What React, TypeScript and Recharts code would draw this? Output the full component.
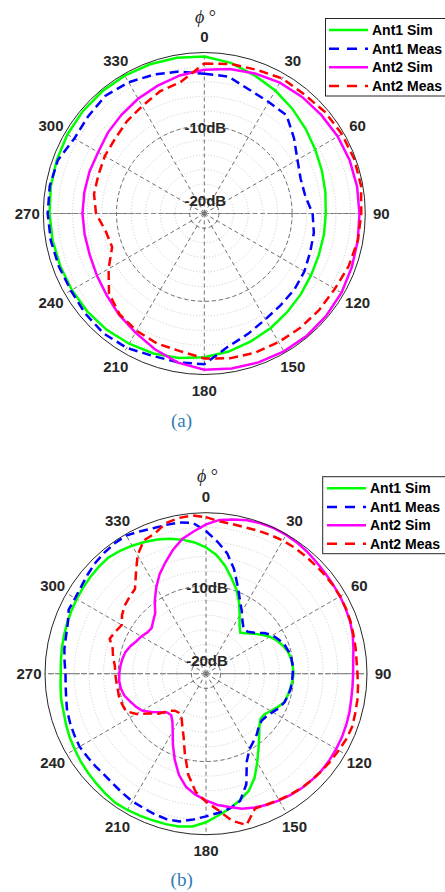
import React from 'react';
import { RadarChart, Radar, PolarGrid, PolarAngleAxis, PolarRadiusAxis } from 'recharts';

// ---------- data ----------
const ANGLES_A = [0, 10, 20, 30, 40, 50, 60, 70, 80, 90, 100, 110, 120, 130, 140, 150, 160, 170, 180, 190, 200, 210, 220, 230, 240, 250, 260, 270, 280, 290, 300, 310, 320, 330, 340, 350];

const ANT1_SIM_A = [-0.55, -1.1, -1.9, -2.6, -3.3, -3.95, -4.5, -4.9, -5.2, -5.4, -5.4, -5.35, -5.15, -4.8, -4.4, -3.9, -3.4, -2.85, -2.35, -1.95, -1.65, -1.45, -1.25, -1.15, -1.1, -1.05, -0.95, -0.85, -0.7, -0.55, -0.4, -0.3, -0.25, -0.25, -0.3, -0.4];
const ANT1_MEAS_A = [-2.9, -3.0, -4.0, -4.4, -4.5, -6.0, -7.3, -8.0, -8.0, -7.2, -6.8, -6.6, -6.2, -5.9, -5.7, -5.3, -4.5, -3.5, -1.4, -1.35, -1.3, -0.8, -0.6, -0.75, -0.95, -0.85, -0.7, -0.6, -0.55, -0.7, -1.5, -1.3, -1.0, -1.3, -1.8, -2.3];
const ANT2_SIM_A = [-2.35, -1.95, -1.65, -1.35, -1.2, -1.1, -0.95, -0.85, -0.8, -0.8, -0.7, -0.55, -0.35, -0.25, -0.2, -0.25, -0.35, -0.5, -0.65, -1.3, -2.25, -3.2, -3.9, -4.6, -5.05, -5.35, -5.4, -5.35, -5.35, -5.3, -5.25, -4.8, -4.4, -3.9, -3.4, -2.85];
const ANT2_MEAS_A = [-1.5, -1.25, -1.1, -0.7, -0.75, -0.45, -0.3, -0.2, -0.25, -0.55, -0.7, -1.0, -1.4, -1.5, -1.6, -1.7, -1.75, -1.9, -2.2, -2.9, -3.1, -3.5, -4.0, -5.0, -6.9, -8.6, -8.3, -7.2, -6.7, -6.6, -6.3, -6.1, -5.55, -5.05, -4.25, -3.7];

const ANGLES_B = [0, 5, 10, 15, 20, 25, 30, 35, 40, 45, 50, 55, 60, 65, 70, 75, 80, 85, 90, 95, 100, 105, 110, 115, 120, 125, 130, 135, 140, 145, 150, 155, 160, 165, 170, 175, 180, 185, 190, 195, 200, 205, 210, 215, 220, 225, 230, 235, 240, 245, 250, 255, 260, 265, 270, 275, 280, 285, 290, 295, 300, 305, 310, 315, 320, 325, 330, 335, 340, 345, 350, 355];

const ANT1_SIM_B = [-4.75, -5.7, -7.0, -8.5, -9.8, -11.3, -12.8, -14.0, -14.7, -14.2, -13.5, -12.7, -11.9, -11.3, -10.8, -10.4, -10.2, -10.1, -10.05, -10.15, -10.3, -10.45, -10.6, -11.2, -11.8, -12.3, -12.3, -11.7, -10.7, -9.5, -8.0, -6.3, -4.95, -4.1, -3.3, -2.55, -1.7, -1.05, -0.8, -0.72, -0.68, -0.6, -0.5, -0.45, -0.6, -0.8, -0.95, -1.1, -1.3, -1.45, -1.65, -1.85, -1.9, -2.05, -2.15, -2.1, -2.0, -1.9, -1.8, -1.7, -1.6, -1.5, -1.4, -1.3, -1.27, -1.5, -1.8, -2.15, -2.5, -2.9, -3.4, -4.0];
const ANT1_MEAS_B = [-2.5, -3.9, -5.3, -7.2, -9.3, -11.0, -12.2, -13.3, -14.0, -13.9, -13.3, -12.3, -11.5, -11.0, -10.55, -10.3, -10.15, -10.1, -10.15, -10.2, -10.25, -10.4, -10.6, -10.95, -11.5, -11.9, -12.05, -11.8, -11.2, -10.7, -10.1, -8.8, -5.9, -4.0, -3.3, -2.9, -2.5, -2.0, -1.5, -1.4, -1.55, -1.75, -1.85, -2.1, -2.3, -2.4, -2.3, -2.2, -2.05, -2.15, -2.25, -2.35, -2.6, -2.75, -2.8, -2.6, -2.35, -2.2, -1.9, -1.3, -1.35, -1.2, -0.9, -0.6, -0.4, -0.25, -0.2, -0.55, -0.85, -0.95, -1.0, -1.3];
const ANT2_SIM_B = [-1.6, -0.9, -0.6, -0.3, -0.12, -0.05, -0.1, -0.2, -0.35, -0.55, -0.7, -0.8, -0.85, -0.95, -1.05, -1.25, -1.55, -1.8, -1.9, -1.9, -1.85, -1.7, -1.6, -1.5, -1.45, -1.4, -1.4, -1.5, -1.6, -1.8, -2.0, -2.25, -2.55, -2.9, -3.5, -4.0, -4.7, -5.4, -6.3, -7.7, -9.5, -11.3, -12.9, -14.0, -14.6, -14.5, -13.8, -12.9, -11.9, -11.4, -10.95, -10.45, -10.2, -10.1, -10.15, -10.25, -10.4, -10.6, -11.0, -11.5, -11.8, -12.2, -12.3, -11.8, -11.2, -9.8, -8.4, -7.0, -5.8, -4.5, -3.3, -2.5];
const ANT2_MEAS_B = [-0.6, -1.1, -1.25, -1.3, -1.2, -1.1, -1.0, -0.95, -0.95, -0.95, -0.9, -0.85, -0.85, -0.9, -1.0, -1.15, -1.25, -1.35, -1.3, -1.15, -1.0, -0.9, -0.75, -0.85, -1.05, -1.2, -1.35, -1.5, -1.65, -1.85, -2.1, -2.3, -2.4, -0.6, -1.6, -3.3, -4.5, -5.8, -8.0, -10.8, -13.0, -14.3, -15.3, -15.5, -15.4, -14.8, -13.5, -12.5, -11.0, -9.9, -9.8, -9.7, -9.75, -9.7, -9.6, -9.5, -9.1, -8.8, -8.0, -8.35, -8.7, -8.0, -7.5, -7.2, -6.9, -5.3, -3.3, -1.9, -1.6, -0.7, -0.4, -0.3];

const SERIES_NAMES = ['Ant1 Sim', 'Ant1 Meas', 'Ant2 Sim', 'Ant2 Meas'];
const RADIAL_MAJOR_TICKS = [-20, -10];
const RADIAL_MINOR_TICKS = [-20, -18, -16, -14, -12, -10, -8, -6, -4, -2];
const SPOKE_ANGLES = [0, 30, 60, 90, 120, 150, 180, 210, 240, 270, 300, 330];
const R_MIN = -22;
const R_MAX = 0;

// ---------- styling ----------
const OUTER_R = 161;
const SANS = "'Liberation Sans', Arial, Helvetica, sans-serif";
const SERIF = "'Liberation Serif', 'DejaVu Serif', 'Times New Roman', serif";
const TEXT = '#262626';

const SERIES_STYLE = [
  { key: 'ant1Sim', color: '#00ff00', dash: undefined as string | undefined },
  { key: 'ant1Meas', color: '#0000ff', dash: '9 5' },
  { key: 'ant2Sim', color: '#ff00ff', dash: undefined as string | undefined },
  { key: 'ant2Meas', color: '#ff0000', dash: '9 5' },
];

const rOf = (v: number) => (OUTER_R * (v - R_MIN)) / (R_MAX - R_MIN);

function buildRows(angles: number[], s1: number[], s2: number[], s3: number[], s4: number[]) {
  return angles.map((a, i) => ({ angle: a, ant1Sim: s1[i], ant1Meas: s2[i], ant2Sim: s3[i], ant2Meas: s4[i] }));
}

const DATA_A = buildRows(ANGLES_A, ANT1_SIM_A, ANT1_MEAS_A, ANT2_SIM_A, ANT2_MEAS_A);
const DATA_B = buildRows(ANGLES_B, ANT1_SIM_B, ANT1_MEAS_B, ANT2_SIM_B, ANT2_MEAS_B);

const renderAngleTick = (props: any) => {
  const { x, y, payload } = props;
  const v = Number(payload?.value);
  if (v % 30 !== 0) return <g />;
  return (
    <text x={x} y={y} textAnchor="middle" dominantBaseline="central" fontFamily={SANS} fontWeight="bold" fontSize={15} fill={TEXT}>
      {v}
    </text>
  );
};

const renderRadiusTick = (props: any) => {
  const { x, y, payload } = props;
  return (
    <text x={x + 1} y={y + 1.5} textAnchor="middle" dominantBaseline="central" fontFamily={SANS} fontWeight="bold" fontSize={15} fill={TEXT}>
      {`${payload.value}dB`}
    </text>
  );
};

interface PanelProps {
  data: any[];
  top: number;
  cx: number;
  cy: number;
  legend: { x: number; y: number; w: number; h: number; rows: number[]; lx1: number; lx2: number; tx: number };
  phi: { x: number; y: number };
  caption: { text: string; x: number; y: number };
}

function Panel({ data, top, cx, cy, legend, phi, caption }: PanelProps) {
  return (
    <div style={{ position: 'absolute', left: 0, top, width: 445, height: 446 }}>
      <RadarChart
        width={445}
        height={446}
        data={data}
        cx={cx}
        cy={cy}
        innerRadius={0}
        outerRadius={OUTER_R}
        startAngle={90}
        endAngle={-270}
        margin={{ top: 0, right: 0, bottom: 0, left: 0 }}
      >
        <PolarGrid
          gridType="circle"
          radialLines={false}
          polarRadius={RADIAL_MINOR_TICKS.map(rOf)}
          polarAngles={[]}
          stroke="#bdbdbd"
          strokeDasharray="1 2"
          strokeWidth={0.8}
        />
        <PolarGrid
          gridType="circle"
          radialLines
          polarRadius={RADIAL_MAJOR_TICKS.map(rOf)}
          polarAngles={SPOKE_ANGLES.map((a) => 90 - a)}
          stroke="#4d4d4d"
          strokeDasharray="4 3"
          strokeWidth={0.8}
        />
        <PolarGrid
          gridType="circle"
          radialLines
          polarRadius={[]}
          polarAngles={[0, 180]}
          stroke="#8a8a8a"
          strokeDasharray="5 3"
          strokeWidth={1.2}
        />
        <PolarAngleAxis
          dataKey="angle"
          type="category"
          axisLineType="circle"
          axisLine={{ stroke: TEXT, strokeWidth: 1 }}
          stroke={TEXT}
          tickLine={false}
          tickSize={16}
          tick={renderAngleTick}
        />
        <PolarRadiusAxis
          angle={90}
          type="number"
          domain={[R_MIN, R_MAX]}
          ticks={RADIAL_MAJOR_TICKS}
          tick={renderRadiusTick}
          axisLine={false}
          tickLine={false}
          allowDataOverflow
        />
        {SERIES_STYLE.map((s, i) => (
          <Radar
            key={s.key}
            name={SERIES_NAMES[i]}
            dataKey={s.key}
            stroke={s.color}
            strokeWidth={2.5}
            strokeDasharray={s.dash}
            fill="none"
            fillOpacity={0}
            dot={false}
            isAnimationActive={false}
          />
        ))}
      </RadarChart>
      <svg width={445} height={446} style={{ position: 'absolute', left: 0, top: 0, pointerEvents: 'none' }}>
        <text x={phi.x} y={phi.y} textAnchor="middle" dominantBaseline="central" fontFamily={SERIF} fontSize={18} fill={TEXT}>
          <tspan fontStyle="italic">ϕ</tspan>
          <tspan> °</tspan>
        </text>
        <rect x={legend.x} y={legend.y} width={legend.w} height={legend.h} fill="#ffffff" stroke={TEXT} strokeWidth={1} />
        {SERIES_STYLE.map((s, i) => (
          <g key={s.key}>
            <line
              x1={legend.lx1}
              x2={legend.lx2}
              y1={legend.rows[i]}
              y2={legend.rows[i]}
              stroke={s.color}
              strokeWidth={2.5}
              strokeDasharray={s.dash ? '10 8' : undefined}
            />
            <text x={legend.tx} y={legend.rows[i]} dominantBaseline="central" fontFamily={SANS} fontWeight="bold" fontSize={14} fill="#000000">
              {SERIES_NAMES[i]}
            </text>
          </g>
        ))}
        <text x={caption.x} y={caption.y} textAnchor="middle" dominantBaseline="central" fontFamily={SERIF} fontSize={19} fill="#2f7db5">
          {caption.text}
        </text>
      </svg>
    </div>
  );
}

export default function App() {
  return (
    <div style={{ position: 'absolute', left: 0, top: 0, width: 445, height: 892, background: '#ffffff' }}>
      <Panel
        data={DATA_A}
        top={0}
        cx={204.3}
        cy={213.5}
        legend={{ x: 325.5, y: 18.5, w: 121, h: 77.5, rows: [30, 48.7, 67.3, 86], lx1: 329, lx2: 368, tx: 372 }}
        phi={{ x: 205.5, y: 16.5 }}
        caption={{ text: '(a)', x: 181.5, y: 420.7 }}
      />
      <Panel
        data={DATA_B}
        top={446}
        cx={206}
        cy={227.7}
        legend={{ x: 322.7, y: 30.7, w: 124, h: 77, rows: [42.3, 61, 79.3, 97.7], lx1: 327, lx2: 366, tx: 370 }}
        phi={{ x: 207.5, y: 30 }}
        caption={{ text: '(b)', x: 181.7, y: 433.3 }}
      />
    </div>
  );
}
